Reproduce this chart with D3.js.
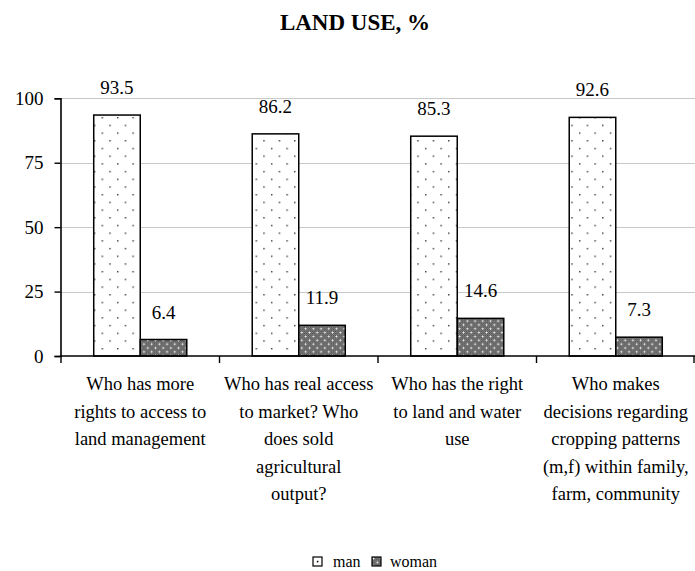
<!DOCTYPE html>
<html>
<head>
<meta charset="utf-8">
<script src="https://cdn.jsdelivr.net/npm/d3@7"></script>
<style>
  html, body { margin: 0; padding: 0; background: #fff; }
  svg { display: block; }
  svg text { font-family: 'Liberation Serif', 'DejaVu Serif', serif; }
</style>
</head>
<body>
<svg id="chart" width="695" height="571"></svg>
<script>
// Survey answers on land use, share of responses by gender (%)
const categories = [
  ["Who has more", "rights to access to", "land management"],
  ["Who has real access", "to market? Who", "does sold", "agricultural", "output?"],
  ["Who has the right", "to land and water", "use"],
  ["Who makes", "decisions regarding", "cropping patterns", "(m,f) within family,", "farm, community"]
];
const series = ["man", "woman"];
const manValues = [93.5, 86.2, 85.3, 92.6];
const womanValues = [6.4, 11.9, 14.6, 7.3];
const yTicks = [0, 25, 50, 75, 100];
const title = "LAND USE, %";

const FONT = "'Liberation Serif', 'DejaVu Serif', serif";

const svg = d3.select("#chart");
const plot = { left: 61, right: 695, top: 98.3, bottom: 356 };

// --- fill patterns -------------------------------------------------------
const defs = svg.append("defs");

// sparse dots on white (man)
const pMan = defs.append("pattern")
  .attr("id", "pat-man").attr("patternUnits", "userSpaceOnUse")
  .attr("x", 0.5).attr("y", 0.5).attr("width", 15.4).attr("height", 15.4);
pMan.append("rect").attr("width", 15.4).attr("height", 15.4).attr("fill", "#fff");
pMan.append("rect").attr("x", 1).attr("y", 1).attr("width", 1.4).attr("height", 1.4).attr("fill", "#333");
pMan.append("rect").attr("x", 8.7).attr("y", 8.7).attr("width", 1.4).attr("height", 1.4).attr("fill", "#333");

// fine dark checker (base of woman fill)
const pChk = defs.append("pattern")
  .attr("id", "pat-check").attr("patternUnits", "userSpaceOnUse")
  .attr("width", 2).attr("height", 2);
pChk.append("rect").attr("width", 2).attr("height", 2).attr("fill", "#959595");
pChk.append("rect").attr("width", 1).attr("height", 1).attr("fill", "#444");
pChk.append("rect").attr("x", 1).attr("y", 1).attr("width", 1).attr("height", 1).attr("fill", "#444");

// white sparkles over the checker (woman)
const pWoman = defs.append("pattern")
  .attr("id", "pat-woman").attr("patternUnits", "userSpaceOnUse")
  .attr("width", 7.7).attr("height", 7.7);
pWoman.append("rect").attr("width", 7.7).attr("height", 7.7).attr("fill", "url(#pat-check)");
[[1.5, 1.5], [5.35, 5.35]].forEach(([cx, cy]) => {
  pWoman.append("rect").attr("x", cx - 1).attr("y", cy - 0.5).attr("width", 2).attr("height", 1).attr("fill", "#f4f4f4");
  pWoman.append("rect").attr("x", cx - 0.5).attr("y", cy - 1).attr("width", 1).attr("height", 2).attr("fill", "#f4f4f4");
});

const fills = { man: "url(#pat-man)", woman: "url(#pat-woman)" };

// --- scales --------------------------------------------------------------
const catIdx = d3.range(categories.length);
const x = d3.scaleBand().domain(catIdx).range([plot.left, plot.right]).paddingInner(0).paddingOuter(0);
const y = d3.scaleLinear().domain([0, 100]).range([plot.bottom, plot.top]);
const groupWidth = x.bandwidth() * 0.587;
const xs = d3.scaleBand().domain(series).range([0, groupWidth]).padding(0);

// --- title ---------------------------------------------------------------
svg.append("text")
  .attr("x", 355).attr("y", 30)
  .attr("text-anchor", "middle")
  .style("font-family", FONT)
  .style("font-size", "23px").style("font-weight", "700")
  .text(title);

// --- gridlines -----------------------------------------------------------
svg.append("g")
  .selectAll("line")
  .data(yTicks.filter(t => t > 0))
  .join("line")
  .attr("x1", plot.left).attr("x2", plot.right)
  .attr("y1", d => Math.round(y(d)) + 0.5).attr("y2", d => Math.round(y(d)) + 0.5)
  .attr("stroke", "#c8c8c8").attr("stroke-width", 1);

// --- y axis --------------------------------------------------------------
const yAxis = svg.append("g")
  .attr("transform", `translate(${plot.left - 0.5},0)`)
  .call(d3.axisLeft(y).tickValues(yTicks).tickSize(6).tickPadding(11).tickFormat(d3.format("d")));
yAxis.select(".domain").attr("stroke", "#000").attr("stroke-width", 1.6);
yAxis.selectAll(".tick line").attr("stroke", "#000").attr("stroke-width", 1.4);
yAxis.selectAll(".tick text").attr("fill", "#000")
  .style("font-family", FONT).style("font-size", "19px").style("font-weight", "400");

// --- bars ----------------------------------------------------------------
const rows = catIdx.flatMap(i => [
  { cat: i, s: "man", v: manValues[i] },
  { cat: i, s: "woman", v: womanValues[i] }
]);
const gx = i => x(i) + (x.bandwidth() - groupWidth) / 2;

svg.append("g")
  .selectAll("rect")
  .data(rows)
  .join("rect")
  .attr("x", d => gx(d.cat) + xs(d.s))
  .attr("y", d => y(d.v))
  .attr("width", xs.bandwidth())
  .attr("height", d => y(0) - y(d.v))
  .attr("fill", d => fills[d.s])
  .attr("stroke", "#000").attr("stroke-width", 1.5);

// value labels
svg.append("g")
  .selectAll("text")
  .data(rows)
  .join("text")
  .attr("x", d => gx(d.cat) + xs(d.s) + xs.bandwidth() / 2)
  .attr("y", d => y(d.v) - 21)
  .attr("text-anchor", "middle")
  .style("font-family", FONT).style("font-size", "19px").style("font-weight", "400")
  .text(d => d3.format(".1f")(d.v));

// --- category axis -------------------------------------------------------
svg.append("line")
  .attr("x1", plot.left - 1).attr("x2", plot.right)
  .attr("y1", plot.bottom).attr("y2", plot.bottom)
  .attr("stroke", "#000").attr("stroke-width", 1.6);

svg.append("g")
  .selectAll("line")
  .data(d3.range(categories.length + 1))
  .join("line")
  .attr("x1", i => i < categories.length ? x(i) : plot.right - 1)
  .attr("x2", i => i < categories.length ? x(i) : plot.right - 1)
  .attr("y1", plot.bottom).attr("y2", plot.bottom + 7)
  .attr("stroke", "#000").attr("stroke-width", 1.4);

const catLabels = svg.append("g")
  .selectAll("text")
  .data(catIdx)
  .join("text")
  .attr("text-anchor", "middle")
  .style("font-family", FONT).style("font-size", "18.5px").style("font-weight", "400");
catLabels.selectAll("tspan")
  .data(i => categories[i].map(line => ({ i, line })))
  .join("tspan")
  .attr("x", d => x(d.i) + x.bandwidth() / 2)
  .attr("y", (d, k) => 390 + k * 27.5)
  .text(d => d.line);

// --- legend --------------------------------------------------------------
const legend = svg.append("g").attr("transform", "translate(313,557)");
const legendX = { man: 0, woman: 59 };
series.forEach(s => {
  const g = legend.append("g").attr("transform", `translate(${legendX[s]},0)`);
  g.append("rect").attr("width", 9).attr("height", 9)
    .attr("fill", s === "man" ? "#fff" : "url(#pat-woman)")
    .attr("stroke", "#000").attr("stroke-width", 1.2);
  if (s === "man") {
    g.append("rect").attr("x", 3.8).attr("y", 3.8).attr("width", 1.6).attr("height", 1.6).attr("fill", "#000");
  }
  g.append("text").attr("x", s === "man" ? 20 : 18).attr("y", 10)
    .style("font-family", FONT).style("font-size", "16px").style("font-weight", "400")
    .text(s);
});
</script>
</body>
</html>
